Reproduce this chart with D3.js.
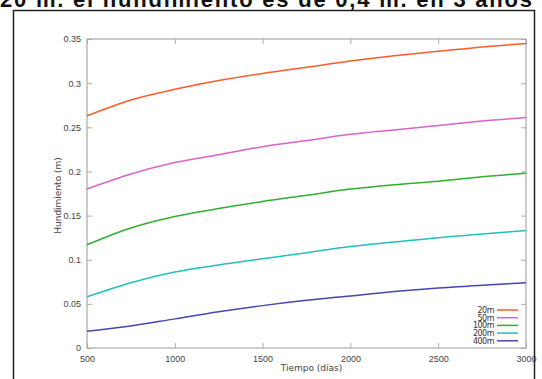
<!DOCTYPE html>
<html>
<head>
<meta charset="utf-8">
<script src="https://cdn.jsdelivr.net/npm/d3@7"></script>
<style>
  body { margin: 0; background: #fff; }
  svg { display: block; font-family: "DejaVu Sans", sans-serif; }
</style>
</head>
<body>
<div id="chart"></div>
<script>
// data
const dias = [500, 750, 1000, 1250, 1500, 1750, 2000, 2250, 2500, 2750, 3000];
const s20 = [0.263, 0.281, 0.293, 0.303, 0.311, 0.318, 0.325, 0.331, 0.336, 0.341, 0.345];
const s50 = [0.180, 0.197, 0.210, 0.219, 0.228, 0.235, 0.242, 0.247, 0.252, 0.257, 0.261];
const s100 = [0.117, 0.136, 0.149, 0.158, 0.166, 0.173, 0.180, 0.185, 0.189, 0.194, 0.198];
const s200 = [0.058, 0.074, 0.086, 0.094, 0.101, 0.108, 0.115, 0.120, 0.125, 0.129, 0.133];
const s400 = [0.019, 0.025, 0.033, 0.041, 0.048, 0.054, 0.059, 0.064, 0.068, 0.071, 0.074];
const nombres = ["20m", "50m", "100m", "200m", "400m"];
const colores = ["#ff5a2a", "#d864c8", "#2fb02f", "#20c0c0", "#4646b4"];
const xTicks = [500, 1000, 1500, 2000, 2500, 3000];
const yTicks = [0, 0.05, 0.1, 0.15, 0.2, 0.25, 0.3, 0.35];
const titulo = "20 m. el hundimiento es de 0,4 m. en 3 años";

const width = 542, height = 379;
const margin = { top: 39, right: 16, bottom: 31, left: 87 };

const svg = d3.select("#chart").append("svg")
  .attr("width", width).attr("height", height);

// title cut off at the top
svg.append("text")
  .attr("x", 0).attr("y", 7)
  .attr("font-family", "Liberation Sans, Arial, sans-serif")
  .attr("font-size", 22)
  .attr("font-weight", "bold")
  .attr("fill", "#111")
  .attr("textLength", 532)
  .text(titulo);

// outer frame
svg.append("rect")
  .attr("x", 13.5).attr("y", 10.5)
  .attr("width", 521).attr("height", 400)
  .attr("fill", "none").attr("stroke", "#222").attr("stroke-width", 1.5);

const x = d3.scaleLinear().domain([500, 3000]).range([margin.left, width - margin.right]);
const y = d3.scaleLinear().domain([0, 0.35]).range([height - margin.bottom, margin.top]);

const fmtY = (d) => d === 0 ? "0" : String(+d.toFixed(2));

// axes, ticks pointing inward on all sides
svg.append("g")
  .attr("transform", `translate(0,${y(0)})`)
  .call(d3.axisBottom(x).tickValues(xTicks).tickSize(-5).tickPadding(8).tickFormat(d3.format("d")))
  .call((g) => g.select(".domain").remove());
svg.append("g")
  .attr("transform", `translate(0,${y(0.35)})`)
  .call(d3.axisTop(x).tickValues(xTicks).tickSize(-5).tickFormat(""))
  .call((g) => g.select(".domain").remove());
svg.append("g")
  .attr("transform", `translate(${x(500)},0)`)
  .call(d3.axisLeft(y).tickValues(yTicks).tickSize(-5).tickPadding(6).tickFormat(fmtY))
  .call((g) => g.select(".domain").remove());
svg.append("g")
  .attr("transform", `translate(${x(3000)},0)`)
  .call(d3.axisRight(y).tickValues(yTicks).tickSize(-5).tickFormat(""))
  .call((g) => g.select(".domain").remove());

svg.selectAll(".tick line").attr("stroke", "#aaa");
svg.selectAll(".tick text").attr("fill", "#444").attr("font-size", 9);

svg.append("rect")
  .attr("x", x(500)).attr("y", y(0.35))
  .attr("width", x(3000) - x(500)).attr("height", y(0) - y(0.35))
  .attr("fill", "none").attr("stroke", "#aaa").attr("stroke-width", 1.2);

// axis labels
svg.append("text")
  .attr("x", x(1750) + 5).attr("y", 371)
  .attr("text-anchor", "middle").attr("font-size", 9).attr("fill", "#444")
  .text("Tiempo (días)");
svg.append("text")
  .attr("transform", `translate(61,${y(0.175) + 2}) rotate(-90)`)
  .attr("text-anchor", "middle").attr("font-size", 9).attr("fill", "#444")
  .text("Hundimiento (m)");

// lines
const series = [s20, s50, s100, s200, s400];
const line = d3.line()
  .x((d, i) => x(dias[i]))
  .y((d) => y(d))
  .curve(d3.curveMonotoneX);

series.forEach((s, i) => {
  svg.append("path")
    .datum(s)
    .attr("fill", "none")
    .attr("stroke", colores[i])
    .attr("stroke-width", 1.5)
    .attr("d", line);
});

// legend
const leg = svg.append("g");
nombres.forEach((n, i) => {
  const ly = 310 + i * 7.7;
  leg.append("text")
    .attr("x", 494).attr("y", ly + 3)
    .attr("text-anchor", "end").attr("font-size", 8).attr("fill", "#333")
    .attr("letter-spacing", -0.5)
    .text(n);
  leg.append("line")
    .attr("x1", 497).attr("x2", 518)
    .attr("y1", ly).attr("y2", ly)
    .attr("stroke", colores[i]).attr("stroke-width", 1.5);
});
</script>
</body>
</html>
